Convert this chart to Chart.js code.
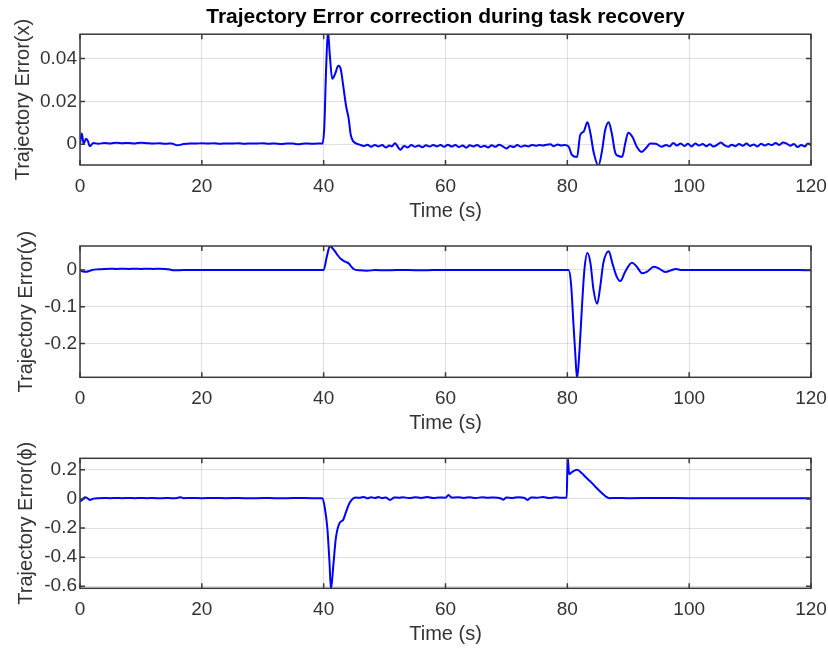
<!DOCTYPE html>
<html>
<head>
<meta charset="utf-8">
<title>Trajectory Error correction during task recovery</title>
<script src="https://cdn.jsdelivr.net/npm/chart.js@4.4.1/dist/chart.umd.min.js"></script>
<style>
  body { margin: 0; background: #fff; }
  #wrap { position: relative; width: 828px; height: 650px; }
  #wrap canvas { position: absolute; left: 0; top: 0; }
</style>
</head>
<body>
<div id="wrap">
  <canvas id="chart-x" width="828" height="650"></canvas>
  <canvas id="chart-y" width="828" height="650"></canvas>
  <canvas id="chart-phi" width="828" height="650"></canvas>
</div>
<script>
// Time ticks shared by all three panels
const timeTicks = [0, 20, 40, 60, 80, 100, 120];

// Trajectory error in x
const timeX = [
  0, 0.3, 0.6, 1.0, 1.3, 1.6, 2.2, 3, 4, 5,
  6, 7, 8, 9, 10, 11, 12, 13, 14, 15,
  16, 17, 18, 19, 20, 21, 22, 23, 24, 25,
  26, 27, 28, 29, 30, 31, 32, 33, 34, 35,
  36, 37, 38, 39, 39.8, 40.1, 40.4, 40.7, 41.0, 41.4,
  41.9, 42.4, 42.8, 43.2, 43.7, 44.1, 44.45, 44.9, 45.5, 46.0,
  46.6, 47.2, 47.8, 48.4, 49.0, 49.6, 50.2, 50.8, 51.2, 51.7,
  52.6, 53.2, 53.8, 54.4, 55.0, 55.6, 56.2, 56.8, 57.4, 58.0,
  58.6, 59.2, 59.8, 60.4, 61.0, 61.6, 62.2, 62.8, 63.4, 64.0,
  64.6, 65.2, 65.8, 66.4, 67.0, 67.6, 68.2, 68.8, 69.4, 70.0,
  70.6, 71.2, 71.8, 72.4, 73.0, 73.6, 74.2, 74.8, 75.4, 76.0,
  76.6, 77.2, 77.8, 78.4, 79.0, 79.5, 80.2, 80.75, 81.6, 82.1,
  82.7, 83.3, 83.8, 84.3, 85.1, 85.7, 86.2, 86.8, 87.3, 87.9,
  88.4, 89.0, 89.5, 90.0, 90.7, 91.4, 92.2, 93.0, 93.6, 94.5,
  95.5, 96.2, 96.8, 97.4, 98.0, 98.6, 99.2, 99.8, 100.4, 101.0,
  101.6, 102.2, 102.8, 103.4, 104.0, 104.6, 105.2, 105.8, 106.4, 107.0,
  107.6, 108.2, 108.8, 109.4, 110.0, 110.6, 111.2, 111.8, 112.4, 113.0,
  113.6, 114.2, 114.8, 115.4, 116.0, 116.6, 117.2, 117.8, 118.4, 119.0,
  119.5, 120
];
const errX = [
  0.0003, 0.005, 0.0002, 0.0026, 0.0015, -0.0009, 0.0006, 0.0002, 0.0006, 0.0004,
  0.0007, 0.0005, 0.0006, 0.0004, 0.0007, 0.0005, 0.0003, 0.0005, 0.0002, 0.0004,
  -0.0005, 0.0001, 0.0004, 0.0003, 0.0005, 0.0003, 0.0005, 0.0002, 0.0004, 0.0003,
  0.0005, 0.0002, 0.0004, 0.0003, 0.0005, 0.0002, 0.0004, 0.0001, 0.0004, 0.0003,
  0.0000, 0.0004, 0.0002, 0.0003, 0.0003, 0.008, 0.035, 0.053, 0.042, 0.0306,
  0.033, 0.0367, 0.0352, 0.0275, 0.0175, 0.012, 0.0043, 0.0012, 0.0002, -0.0003,
  -0.0008, -0.0002, -0.0012, -0.0003, -0.0010, -0.0004, -0.0015, -0.0006, -0.0010, 0.0005,
  -0.0026, -0.0008, -0.0015, -0.0004, -0.0012, -0.0006, -0.0014, -0.0005, -0.0011, -0.0003,
  -0.0010, -0.0004, -0.0012, -0.0002, -0.0011, -0.0004, -0.0013, -0.0006, -0.0016, -0.0005,
  -0.0010, -0.0003, -0.0013, -0.0007, -0.0015, -0.0005, -0.0012, -0.0002, -0.0010, -0.0020,
  -0.0008, -0.0013, -0.0004, -0.0012, -0.0006, -0.0010, -0.0003, -0.0007, -0.0004, -0.0006,
  -0.0002, 0.0000, -0.0009, -0.0001, -0.0006, -0.0003, -0.0010, -0.0050, -0.0060, 0.0042,
  0.0060, 0.0103, 0.0050, -0.0035, -0.0100, -0.0030, 0.0065, 0.0103, 0.0050, -0.0043,
  -0.0055, -0.0059, 0.0003, 0.0054, 0.0034, -0.0012, -0.0036, -0.0015, 0.0003, 0.0002,
  -0.0012, -0.0004, -0.0010, 0.0006, -0.0006, 0.0004, -0.0008, 0.0002, -0.0010, 0.0003,
  -0.0006, 0.0001, -0.0009, 0.0000, -0.0011, -0.0003, 0.0008, -0.0005, -0.0012, -0.0002,
  -0.0009, 0.0001, -0.0007, 0.0003, -0.0008, -0.0001, -0.0010, 0.0002, -0.0006, 0.0001,
  -0.0004, 0.0006, -0.0003, 0.0008, 0.0003, -0.0007, 0.0001, -0.0013, -0.0003, -0.0010,
  0.0004, -0.0005
];
const ticksX = [0, 0.02, 0.04];
const tickLabelsX = ['0', '0.02', '0.04'];

// Trajectory error in y
const timeY = [
  0, 0.5, 1.0, 1.5, 2.0, 3, 4, 5, 6, 7,
  8, 9, 10, 11, 12, 13, 14, 14.5, 15.5, 17,
  19, 21, 23, 25, 27, 29, 31, 33, 35, 37,
  39, 40.0, 40.5, 41.05, 41.5, 41.9, 42.3, 42.7, 43.5, 44.1,
  44.5, 44.9, 46.0, 47.1, 48.5, 50, 52, 54, 56, 58,
  60, 62, 64, 66, 68, 70, 72, 74, 76, 78,
  79.5, 80.2, 80.6, 81.0, 81.3, 81.6, 82.0, 82.4, 82.8, 83.3,
  83.8, 84.3, 84.9, 85.4, 85.9, 86.8, 87.4, 88.1, 88.7, 89.5,
  90.6, 91.4, 92.3, 93.1, 94.2, 95.0, 96.1, 97.0, 97.8, 98.8,
  100, 103, 106, 109, 112, 115, 118, 120
];
const errY = [
  0.000, -0.004, -0.005, -0.003, 0.000, 0.002, 0.003, 0.0035, 0.003, 0.0035,
  0.003, 0.0035, 0.003, 0.0035, 0.003, 0.0035, 0.003, 0.002, -0.001, 0.000,
  0.000, 0.000, 0.000, 0.000, 0.000, 0.000, 0.000, 0.000, 0.000, 0.000,
  0.000, 0.000, 0.035, 0.066, 0.058, 0.050, 0.040, 0.032, 0.0226, 0.018,
  0.010, 0.0027, -0.001, -0.002, 0.000, -0.001, 0.000, 0.000, -0.001, 0.000,
  0.000, 0.000, 0.000, 0.000, 0.000, 0.000, 0.000, 0.000, 0.000, 0.000,
  0.000, 0.000, -0.036, -0.145, -0.226, -0.295, -0.217, -0.100, 0.000, 0.046,
  0.018, -0.054, -0.092, -0.045, 0.018, 0.051, 0.018, -0.018, -0.030, -0.0045,
  0.020, 0.009, -0.009, -0.0045, 0.009, 0.0045, -0.0055, -0.001, 0.003, 0.000,
  0.000, 0.000, 0.000, 0.000, 0.000, 0.000, 0.000, -0.001
];
const ticksY = [-0.2, -0.1, 0];
const tickLabelsY = ['-0.2', '-0.1', '0'];

// Trajectory error in phi
const timePhi = [
  0, 0.4, 0.8, 1.2, 1.6, 2.2, 3, 4, 5, 6,
  7, 8, 9, 10, 11, 12, 13, 14, 15, 16,
  16.5, 17, 18, 20, 22, 24, 26, 28, 30, 32,
  34, 36, 38, 39.8, 40.2, 40.6, 40.95, 41.2, 41.6, 42.0,
  42.6, 43.2, 43.6, 44.1, 44.6, 45.2, 46.0, 46.6, 47.2, 47.8,
  48.4, 49.0, 49.6, 50.2, 50.9, 51.6, 52.4, 53.0, 54, 55,
  56, 57, 58, 59, 60, 60.5, 61, 62, 63, 64,
  65, 66, 67, 68, 69, 69.5, 70, 71, 72, 73,
  73.5, 74, 75, 76, 77, 78, 79, 79.9, 80.05, 80.3,
  80.8, 81.6, 82.4, 83.0, 83.5, 84.1, 84.6, 85.7, 86.4, 86.9,
  88, 90, 95, 100, 105, 110, 115, 120
];
const errPhi = [
  -0.018, -0.005, 0.012, 0.006, -0.007, 0.002, 0.005, 0.006, 0.005, 0.007,
  0.005, 0.006, 0.005, 0.007, 0.005, 0.006, 0.004, 0.006, 0.005, 0.007,
  0.012, 0.005, 0.006, 0.005, 0.006, 0.005, 0.006, 0.004, 0.006, 0.005,
  0.005, 0.006, 0.005, 0.005, -0.064, -0.200, -0.430, -0.620, -0.450, -0.270,
  -0.166, -0.144, -0.098, -0.041, -0.007, 0.009, 0.008, 0.014, 0.004, 0.012,
  0.006, 0.013, 0.005, 0.010, -0.007, 0.010, 0.008, 0.012, 0.006, 0.011,
  0.007, 0.013, 0.006, 0.010, 0.008, 0.027, 0.009, 0.012, 0.007, 0.011,
  0.006, 0.012, 0.008, 0.010, 0.005, -0.005, 0.010, 0.007, 0.012, 0.006,
  -0.007, 0.010, 0.008, 0.013, 0.006, 0.011, 0.008, 0.010, 0.290, 0.170,
  0.185, 0.200, 0.176, 0.150, 0.130, 0.107, 0.084, 0.039, 0.014, 0.005,
  0.006, 0.005, 0.006, 0.005, 0.005, 0.005, 0.005, 0.005
];
const ticksPhi = [-0.6, -0.4, -0.2, 0, 0.2];
const tickLabelsPhi = ['-0.6', '-0.4', '-0.2', '0', '0.2'];

// Layout (page pixels)
const PAGE_W = 828, PAGE_H = 650;
const PLOT_LEFT = 80, PLOT_RIGHT = 811;
const X_AXIS_H = 58;
const FONT = 'Liberation Sans, Arial, Helvetica, sans-serif';
const TEXT_COLOR = '#333333';
const BOX_COLOR = '#3a3a3a';
const GRID_COLOR = 'rgba(0,0,0,0.12)';

// MATLAB style box with inward tick marks on all four sides
const matlabBox = {
  id: 'matlabBox',
  afterDraw(chart) {
    const { ctx, chartArea: a, scales } = chart;
    const len = 5;
    ctx.save();
    ctx.strokeStyle = BOX_COLOR;
    ctx.lineWidth = 1.5;
    ctx.strokeRect(a.left, a.top, a.right - a.left, a.bottom - a.top);
    ctx.beginPath();
    scales.x.ticks.forEach(t => {
      const px = scales.x.getPixelForValue(t.value);
      ctx.moveTo(px, a.bottom); ctx.lineTo(px, a.bottom - len);
      ctx.moveTo(px, a.top); ctx.lineTo(px, a.top + len);
    });
    scales.y.ticks.forEach(t => {
      const py = scales.y.getPixelForValue(t.value);
      ctx.moveTo(a.left, py); ctx.lineTo(a.left + len, py);
      ctx.moveTo(a.right, py); ctx.lineTo(a.right - len, py);
    });
    ctx.stroke();
    ctx.restore();
  }
};

function makePanel(canvasId, times, values, p) {
  const points = times.map((t, i) => ({ x: t, y: values[i] }));
  return new Chart(document.getElementById(canvasId), {
    type: 'line',
    data: {
      datasets: [{
        data: points,
        borderColor: '#0000ff',
        borderWidth: 2,
        pointRadius: 0,
        cubicInterpolationMode: 'monotone',
        clip: 0
      }]
    },
    options: {
      responsive: false,
      animation: false,
      events: [],
      layout: {
        padding: {
          top: p.padTop,
          bottom: PAGE_H - p.bottom - X_AXIS_H,
          left: 0,
          right: PAGE_W - PLOT_RIGHT
        }
      },
      plugins: {
        legend: { display: false },
        tooltip: { enabled: false },
        title: p.title ? {
          display: true,
          text: p.title,
          fullSize: false,
          color: '#000',
          font: { family: FONT, size: 21, weight: 'bold' },
          padding: { top: 5, bottom: 4 }
        } : { display: false }
      },
      scales: {
        x: {
          type: 'linear',
          min: 0,
          max: 120,
          afterBuildTicks: s => { s.ticks = timeTicks.map(v => ({ value: v })); },
          afterFit: s => {
            s.height = X_AXIS_H;
            s.paddingLeft = 0;
            s.paddingRight = 0;
          },
          grid: { color: GRID_COLOR, drawTicks: false },
          border: { display: false },
          ticks: {
            padding: 10, maxRotation: 0, autoSkip: false,
            color: TEXT_COLOR, font: { family: FONT, size: 19 }
          },
          title: {
            display: true, text: 'Time (s)', color: TEXT_COLOR,
            font: { family: FONT, size: 20 }, padding: { top: 0, bottom: 0 }
          }
        },
        y: {
          min: p.yMin,
          max: p.yMax,
          afterBuildTicks: s => { s.ticks = p.ticks.map(v => ({ value: v })); },
          afterFit: s => {
            s.width = PLOT_LEFT;
            s.paddingTop = 0;
            s.paddingBottom = 0;
          },
          grid: { color: GRID_COLOR, drawTicks: false },
          border: { display: false },
          ticks: {
            padding: 3, autoSkip: false,
            color: TEXT_COLOR, font: { family: FONT, size: 19 },
            callback: (v, i) => p.labels[i]
          },
          title: {
            display: true, text: p.yLabel, color: TEXT_COLOR,
            font: { family: FONT, size: 20 }, padding: { top: p.yTitlePad, bottom: 0 }
          }
        }
      }
    },
    plugins: [matlabBox]
  });
}

makePanel('chart-x', timeX, errX, {
  title: 'Trajectory Error correction during task recovery',
  padTop: 0, bottom: 165, yMin: -0.0097, yMax: 0.0514,
  ticks: ticksX, labels: tickLabelsX, yLabel: 'Trajectory Error(x)', yTitlePad: 11
});
makePanel('chart-y', timeY, errY, {
  padTop: 246, bottom: 377.3, yMin: -0.2915, yMax: 0.0652,
  ticks: ticksY, labels: tickLabelsY, yLabel: 'Trajectory Error(y)', yTitlePad: 14
});
makePanel('chart-phi', timePhi, errPhi, {
  padTop: 458.3, bottom: 588.3, yMin: -0.614, yMax: 0.279,
  ticks: ticksPhi, labels: tickLabelsPhi, yLabel: 'Trajectory Error(ϕ)', yTitlePad: 14
});
</script>
</body>
</html>
